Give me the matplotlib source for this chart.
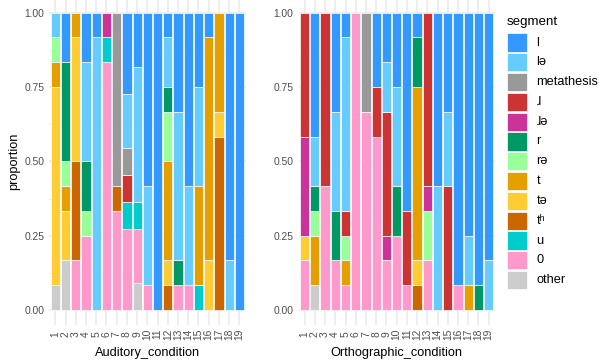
import numpy as np
import matplotlib.pyplot as plt
from matplotlib.patches import Rectangle

plt.rcParams['font.family'] = ['Liberation Sans', 'DejaVu Sans']

segments = ['l', 'lə', 'metathesis', 'ɺ', 'ɺə', 'r', 'rə', 't', 'tə', 'tʰ', 'u', '0', 'other']
seg_colors = ['#3399FF', '#66CCFF', '#999999', '#CC3333', '#CC3399', '#009966', '#99FF99',
              '#E69F00', '#FFCC33', '#CC6600', '#00CCCC', '#FF99CC', '#CCCCCC']
items = [str(i) for i in range(1, 20)]

# response counts, one row per segment (same order as segments), one column per item
auditory = [
    [0, 2, 0, 2, 1, 0, 0, 3, 2, 7, 12, 1, 4, 7, 3, 1, 0, 10, 12],   # l
    [1, 0, 0, 4, 11, 0, 0, 2, 5, 4, 0, 2, 6, 4, 4, 0, 0, 2, 0],     # lə
    [0, 0, 0, 0, 0, 0, 7, 1, 0, 0, 0, 0, 0, 0, 0, 0, 0, 0, 0],      # metathesis
    [0, 0, 0, 0, 0, 0, 0, 1, 0, 0, 0, 0, 0, 0, 0, 0, 0, 0, 0],      # ɺ
    [0, 0, 0, 0, 0, 1, 0, 0, 0, 0, 0, 0, 0, 0, 0, 0, 0, 0, 0],      # ɺə
    [0, 4, 0, 2, 0, 0, 0, 0, 0, 0, 0, 1, 1, 0, 0, 0, 0, 0, 0],      # r
    [1, 1, 0, 1, 0, 0, 0, 0, 0, 0, 0, 2, 0, 0, 0, 0, 0, 0, 0],      # rə
    [1, 1, 1, 0, 0, 0, 0, 0, 0, 0, 0, 4, 0, 0, 4, 9, 4, 0, 0],      # t
    [8, 2, 5, 0, 0, 0, 0, 0, 0, 0, 0, 1, 0, 0, 0, 2, 1, 0, 0],      # tə
    [0, 0, 4, 0, 0, 0, 1, 0, 0, 0, 0, 1, 0, 0, 0, 0, 7, 0, 0],      # tʰ
    [0, 0, 0, 0, 0, 1, 0, 1, 1, 0, 0, 0, 0, 0, 1, 0, 0, 0, 0],      # u
    [0, 0, 2, 3, 0, 10, 4, 3, 2, 1, 0, 0, 1, 1, 0, 0, 0, 0, 0],     # 0
    [1, 2, 0, 0, 0, 0, 0, 0, 1, 0, 0, 0, 0, 0, 0, 0, 0, 0, 0],      # other
]
orthographic = [
    [0, 5, 0, 4, 1, 0, 0, 3, 2, 3, 8, 1, 0, 7, 4, 11, 9, 11, 10],
    [0, 2, 0, 4, 7, 0, 0, 0, 2, 4, 0, 0, 0, 5, 3, 0, 2, 0, 2],
    [0, 0, 0, 0, 0, 0, 4, 0, 0, 0, 0, 0, 0, 0, 0, 0, 0, 0, 0],
    [5, 0, 7, 0, 1, 0, 0, 2, 5, 0, 3, 0, 7, 0, 5, 0, 0, 0, 0],
    [4, 0, 0, 0, 0, 0, 0, 0, 1, 0, 0, 0, 1, 0, 0, 0, 0, 0, 0],
    [0, 1, 0, 2, 0, 0, 0, 0, 0, 2, 0, 2, 0, 0, 0, 0, 0, 1, 0],
    [0, 1, 0, 0, 1, 0, 0, 0, 0, 0, 0, 0, 2, 0, 0, 0, 0, 0, 0],
    [0, 2, 0, 0, 1, 0, 0, 0, 0, 0, 0, 7, 0, 0, 0, 0, 1, 0, 0],
    [1, 0, 0, 0, 0, 0, 0, 0, 0, 0, 0, 1, 0, 0, 0, 0, 0, 0, 0],
    [0, 0, 0, 0, 0, 0, 0, 0, 0, 0, 0, 1, 0, 0, 0, 0, 0, 0, 0],
    [0, 0, 0, 0, 0, 0, 0, 0, 0, 0, 0, 0, 0, 0, 0, 0, 0, 0, 0],
    [2, 0, 5, 2, 1, 12, 8, 7, 2, 3, 1, 0, 2, 0, 0, 1, 0, 0, 0],
    [0, 1, 0, 0, 0, 0, 0, 0, 0, 0, 0, 0, 0, 0, 0, 0, 0, 0, 0],
]

W, H = 605, 362
fig = plt.figure(figsize=(W / 100, H / 100), dpi=100)

grid_col = '#EBEBEB'
tick_col = '#4D4D4D'

# panel boxes in pixels
top_px, bot_px = -2.2, 324.9
y0 = (H - bot_px) / H
hh = (bot_px - top_px) / H
ax_h_px = bot_px - top_px


def draw_panel(ax, counts, xlab):
    counts = np.array(counts, dtype=float)
    prop = counts / counts.sum(axis=0)
    x = np.arange(1, len(items) + 1)
    bottom = np.zeros(len(items))
    # first segment ends up on top, like ggplot stacking
    for k in range(len(segments) - 1, -1, -1):
        m = prop[k] > 0
        ax.bar(x[m], prop[k][m], 0.9, bottom=bottom[m], color=seg_colors[k],
               edgecolor='white', linewidth=0.5, zorder=3)
        bottom += prop[k]
    ax.set_xlim(0.4, len(items) + 0.6)
    ax.set_ylim(-0.05, 1.05)
    ax.set_xticks(x)
    ax.set_xticklabels(items, rotation=90, fontsize=7.4, color=tick_col)
    for lab in ax.get_xticklabels():
        lab.set_va('center')
    ax.set_yticks([0, 0.25, 0.5, 0.75, 1.0])
    ax.set_yticklabels(['0.00', '0.25', '0.50', '0.75', '1.00'], fontsize=7.4, color=tick_col)
    ax.set_yticks([0.125, 0.375, 0.625, 0.875], minor=True)
    ax.tick_params(axis='both', which='both', length=0)
    ax.tick_params(axis='x', pad=6.5)
    ax.tick_params(axis='y', pad=3.6)
    ax.grid(True, which='major', color=grid_col, lw=1.2, zorder=0)
    ax.grid(True, which='minor', axis='y', color=grid_col, lw=0.6, zorder=0)
    for s in ax.spines.values():
        s.set_visible(False)
    ax.set_xlabel(xlab, fontsize=9.2, va='center')
    ax.xaxis.set_label_coords(0.5, (bot_px - 352.7) / ax_h_px)


ax1 = fig.add_axes([49.2 / W, y0, 196.3 / W, hh])
ax2 = fig.add_axes([298.5 / W, y0, 196.3 / W, hh])
draw_panel(ax1, auditory, 'Auditory_condition')
draw_panel(ax2, orthographic, 'Orthographic_condition')
ax1.set_ylabel('proportion', fontsize=9.2, va='center')
ax1.yaxis.set_label_coords((14 - 49.2) / 196.3, 0.5)

# legend drawn in pixel space
lg = fig.add_axes([0, 0, 1, 1])
lg.set_xlim(0, W)
lg.set_ylim(H, 0)
lg.axis('off')
lg.text(507, 21.7, 'segment', fontsize=9.6, va='center', ha='left')
for i, (seg, col) in enumerate(zip(segments, seg_colors)):
    yk = 33.3 + i * 19.8
    lg.add_patch(Rectangle((507.3, yk), 19.4, 18.3, facecolor=col, edgecolor='white', lw=0.5))
    lg.text(536.5, yk + 9.2, seg, fontsize=9.2, va='center', ha='left')

fig.savefig('out.png', dpi=100)
